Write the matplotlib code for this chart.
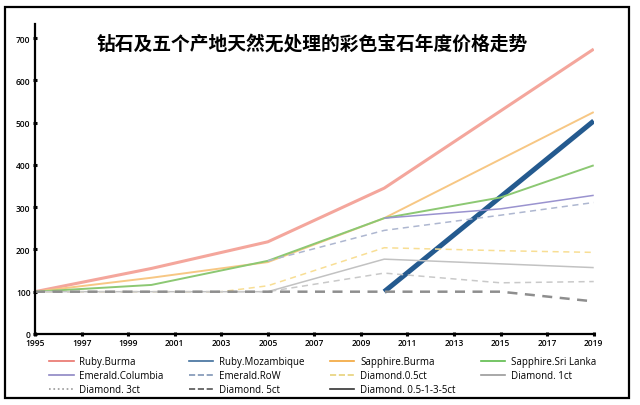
# coding=utf-8
from matplotlib import pyplot as plt
from matplotlib.lines import Line2D
from matplotlib.patches import Rectangle
import numpy as np

plt.rcParams['font.family'] = ['Open Sans', 'Noto Sans CJK SC', 'DejaVu Sans']

title = "钻石及五个产地天然无处理的彩色宝石年度价格走势"

# year / price index per series (1995 = 100)
ruby_burma_x = [1995, 2000, 2005, 2010, 2019]
ruby_burma_y = [100, 155, 218, 345, 674]
ruby_moz_x = [2010, 2019]
ruby_moz_y = [100, 504]
sapph_burma_x = [1995, 2000, 2005, 2010, 2019]
sapph_burma_y = [100, 133, 170, 274, 525]
sapph_sri_x = [1995, 2000, 2005, 2010, 2015, 2019]
sapph_sri_y = [100, 116, 173, 274, 323, 399]
emer_col_x = [2010, 2015, 2019]
emer_col_y = [274, 296, 328]
emer_row_x = [2005, 2010, 2015, 2019]
emer_row_y = [173, 245, 281, 311]
dia05_x = [1995, 2003, 2005, 2010, 2015, 2019]
dia05_y = [100, 100, 114, 204, 197, 193]
dia1_x = [1995, 2005, 2010, 2019]
dia1_y = [100, 100, 177, 157]
dia3_x = [1995, 2005, 2010, 2015, 2019]
dia3_y = [100, 100, 144, 121, 124]
dia5_x = [1995, 2015, 2019]
dia5_y = [100, 100, 77]
dia_all_x = []
dia_all_y = []

x_ticks = list(range(1995, 2020, 2))
y_ticks = list(range(0, 701, 100))

# name, x, y, line colour, legend colour, width, style
series = [
    ("Ruby.Burma", ruby_burma_x, ruby_burma_y, '#F4A69C', '#E9736B', 2.2, '-'),
    ("Ruby.Mozambique", ruby_moz_x, ruby_moz_y, '#245A8F', '#3F6E9C', 3.6, '-'),
    ("Sapphire.Burma", sapph_burma_x, sapph_burma_y, '#F7C784', '#F2A53A', 1.4, '-'),
    ("Sapphire.Sri Lanka", sapph_sri_x, sapph_sri_y, '#8CC873', '#5DBB4C', 1.4, '-'),
    ("Emerald.Columbia", emer_col_x, emer_col_y, '#9A93CF', '#8D86C4', 1.1, '-'),
    ("Emerald.RoW", emer_row_x, emer_row_y, '#AEB7D0', '#7F95B5', 1.1, '--'),
    ("Diamond.0.5ct", dia05_x, dia05_y, '#F8DE94', '#E8D27A', 1.1, '--'),
    ("Diamond. 1ct", dia1_x, dia1_y, '#C2C2C2', '#9A9A9A', 1.1, '-'),
    ("Diamond. 3ct", dia3_x, dia3_y, '#C9C9C9', '#9A9A9A', 1.1, '--'),
    ("Diamond. 5ct", dia5_x, dia5_y, '#8E8E8E', '#555555', 1.8, '--'),
    ("Diamond. 0.5-1-3-5ct", dia_all_x, dia_all_y, '#333333', '#333333', 1.5, '-'),
]
legend_styles = ['-', '-', '-', '-', '-', '--', '--', '-', ':', '--', '-']

fig = plt.figure(figsize=(6.4, 4.06), dpi=100)
ax = fig.add_axes([0.0547, 0.175, 0.873, 0.763])

handles = []
for i, (name, xs, ys, c, lc, lw, ls) in enumerate(series):
    if ls == '--':
        ax.plot(xs, ys, color=c, lw=lw, ls=(0, (4, 3)))
    else:
        ax.plot(xs, ys, color=c, lw=lw, ls=ls, solid_capstyle='butt')
    handles.append(Line2D([], [], color=lc, lw=1.2, ls=legend_styles[i]))

ax.set_xlim(1995, 2019)
ax.set_ylim(0, 733)
ax.set_xticks(x_ticks)
ax.set_yticks(y_ticks)
for s in ['top', 'right']:
    ax.spines[s].set_visible(False)
for s in ['left', 'bottom']:
    ax.spines[s].set_linewidth(1.6)
ax.tick_params(direction='inout', length=2.5, width=2.2, labelsize=6, pad=2)
for lab in ax.get_xticklabels() + ax.get_yticklabels():
    lab.set_fontweight('semibold')

fig.text(0.488, 0.892, title, fontsize=13.5, fontweight='bold',
         family=['Noto Sans CJK SC', 'DejaVu Sans'], ha='center', va='center')

order = [0, 4, 8, 1, 5, 9, 2, 6, 10, 3, 7]
fig.legend([handles[i] for i in order], [series[i][0] for i in order],
           ncol=4, loc='upper left', bbox_to_anchor=(0.077, 0.12),
           frameon=False, fontsize=7, handlelength=2.5, handletextpad=0.6,
           columnspacing=2.6, labelspacing=0.3, borderpad=0, borderaxespad=0)

fig.patches.append(Rectangle((0.008, 0.017), 0.975, 0.963, transform=fig.transFigure,
                             fill=False, edgecolor='black', lw=1.6))

plt.savefig('out.png', dpi=100)
